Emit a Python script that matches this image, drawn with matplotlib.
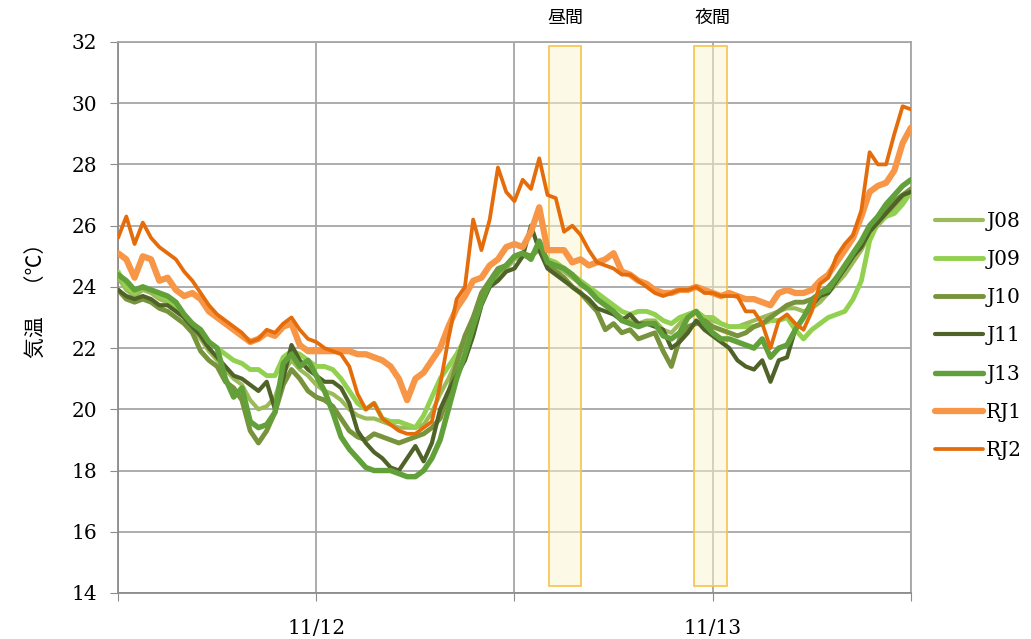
import numpy as np
import matplotlib
matplotlib.use("Agg")
import matplotlib.pyplot as plt
from matplotlib.patches import Rectangle

# 30分ごとの気温データ (11/11 12:00 から 48時間)
hours = np.arange(0, 48.5, 0.5)

j08 = [24.3, 23.9, 23.7, 23.9, 23.8, 23.6, 23.5, 23.3, 23.0, 22.6,
       22.3, 21.9, 21.6, 21.3, 21.0, 20.8, 20.3, 20.0, 20.1, 20.4,
       21.2, 21.6, 21.3, 21.1, 20.8, 20.6, 20.5, 20.3, 20.0, 19.8,
       19.7, 19.7, 19.6, 19.5, 19.4, 19.4, 19.4, 19.5, 19.9, 20.5,
       21.0, 21.6, 22.2, 22.8, 23.5, 24.0, 24.4, 24.6, 24.9, 25.0,
       25.0, 25.2, 24.8, 24.6, 24.5, 24.3, 24.1, 23.9, 23.6, 23.4,
       23.2, 23.0, 22.9, 22.8, 22.9, 22.9, 22.6, 22.5, 22.8, 23.1,
       23.2, 23.0, 22.9, 22.8, 22.7, 22.7, 22.8, 22.9, 23.0, 23.1,
       23.2, 23.3, 23.3, 23.2, 23.3, 23.5, 23.8, 24.1, 24.4, 24.8,
       25.2, 25.7, 26.0, 26.3, 26.6, 26.9, 27.0]

j09 = [24.5, 24.0, 23.8, 24.0, 23.9, 23.7, 23.6, 23.4, 23.1, 22.8,
       22.5, 22.2, 22.0, 21.8, 21.6, 21.5, 21.3, 21.3, 21.1, 21.1,
       21.7, 21.9, 21.8, 21.6, 21.4, 21.4, 21.3, 21.0, 20.6, 20.2,
       20.0, 20.2, 19.7, 19.6, 19.6, 19.5, 19.4, 19.8, 20.4, 21.0,
       21.4, 21.8, 22.3, 23.0, 23.6, 24.1, 24.5, 24.7, 25.0, 25.1,
       25.0, 25.3, 24.9, 24.8, 24.6, 24.4, 24.2, 24.0, 23.8, 23.6,
       23.4, 23.2, 23.1, 23.2, 23.2, 23.1, 22.9, 22.8, 23.0, 23.1,
       23.2, 23.0, 23.0, 22.8, 22.7, 22.7, 22.7, 22.7, 22.8, 22.9,
       22.9, 23.0, 22.6, 22.3, 22.6, 22.8, 23.0, 23.1, 23.2, 23.6,
       24.2, 25.5, 26.1, 26.3, 26.4, 26.7, 27.1]

j10 = [23.9, 23.6, 23.5, 23.6, 23.5, 23.3, 23.2, 23.0, 22.8, 22.5,
       21.9, 21.6, 21.4, 20.9, 20.7, 20.3, 19.3, 18.9, 19.3, 19.9,
       20.8, 21.3, 21.0, 20.6, 20.4, 20.3, 20.1, 19.7, 19.3, 19.1,
       19.0, 19.2, 19.1, 19.0, 18.9, 19.0, 19.1, 19.2, 19.4, 19.7,
       20.5, 21.5, 22.4, 23.0, 23.8, 24.2, 24.6, 24.7, 25.0, 25.1,
       25.0, 25.3, 24.7, 24.5, 24.3, 24.0, 23.8, 23.5, 23.2, 22.6,
       22.8, 22.5, 22.6, 22.3, 22.4, 22.5, 21.9, 21.4, 22.3, 22.7,
       22.8, 22.9, 22.7, 22.6, 22.5, 22.4, 22.5, 22.7, 22.8, 23.0,
       23.2, 23.4, 23.5, 23.5, 23.6, 23.8, 24.0, 24.3, 24.6, 25.0,
       25.4, 25.9, 26.2, 26.5, 26.8, 27.0, 27.2]

j11 = [23.9, 23.7, 23.6, 23.7, 23.6, 23.4, 23.4, 23.2, 23.0, 22.7,
       22.4, 22.0, 21.7, 21.4, 21.1, 21.0, 20.8, 20.6, 20.9, 20.0,
       21.0, 22.1, 21.6, 21.3, 21.1, 20.9, 20.9, 20.7, 20.2, 19.3,
       18.9, 18.6, 18.4, 18.1, 18.0, 18.4, 18.8, 18.3, 18.9, 20.0,
       20.6, 21.1, 21.6, 22.4, 23.4, 24.0, 24.2, 24.5, 24.6, 25.0,
       26.0, 25.2, 24.6, 24.4, 24.2, 24.0, 23.8, 23.6, 23.3, 23.2,
       23.1, 22.9, 23.1, 22.8, 22.8, 22.7, 22.6, 22.0, 22.2, 22.5,
       22.9, 22.6, 22.4, 22.2, 22.0, 21.6, 21.4, 21.3, 21.6, 20.9,
       21.6, 21.7, 22.6, 23.0, 23.4, 23.7, 23.8, 24.2, 24.6, 25.0,
       25.3, 25.8, 26.1, 26.4, 26.7, 27.0, 27.1]

j13 = [24.4, 24.2, 23.9, 24.0, 23.9, 23.8, 23.7, 23.5, 23.1, 22.8,
       22.6, 22.2, 22.0, 21.0, 20.4, 20.7, 19.6, 19.4, 19.5, 19.9,
       21.5, 21.8, 21.4, 21.6, 21.1, 20.6, 19.9, 19.1, 18.7, 18.4,
       18.1, 18.0, 18.0, 18.0, 17.9, 17.8, 17.8, 18.0, 18.4, 19.0,
       20.0, 21.0, 21.8, 22.7, 23.5, 24.1, 24.5, 24.7, 25.0, 25.1,
       24.9, 25.5, 24.8, 24.7, 24.6, 24.4, 24.1, 23.9, 23.6, 23.4,
       23.2, 22.9, 22.8, 22.7, 22.8, 22.8, 22.4, 22.3, 22.5, 23.0,
       23.2, 22.8, 22.5, 22.3, 22.3, 22.2, 22.1, 22.0, 22.3, 21.7,
       22.0, 22.1, 22.6, 23.0, 23.5, 23.8, 23.9, 24.3, 24.7, 25.1,
       25.5, 26.0, 26.3, 26.7, 27.0, 27.3, 27.5]

rj1 = [25.1, 24.9, 24.3, 25.0, 24.9, 24.2, 24.3, 23.9, 23.7, 23.8,
       23.6, 23.2, 23.0, 22.8, 22.6, 22.4, 22.2, 22.3, 22.5, 22.4,
       22.7, 22.8, 22.1, 21.9, 21.9, 21.9, 21.9, 21.9, 21.9, 21.8,
       21.8, 21.7, 21.6, 21.4, 21.0, 20.3, 21.0, 21.2, 21.6, 22.0,
       22.7, 23.3, 23.7, 24.2, 24.3, 24.7, 24.9, 25.3, 25.4, 25.3,
       25.8, 26.6, 25.2, 25.2, 25.2, 24.8, 24.9, 24.7, 24.8, 24.9,
       25.1, 24.5, 24.4, 24.2, 24.1, 23.9, 23.8, 23.8, 23.9, 23.9,
       24.0, 23.9, 23.8, 23.7, 23.8, 23.7, 23.6, 23.6, 23.5, 23.4,
       23.8, 23.9, 23.8, 23.8, 23.9, 24.2, 24.4, 24.8, 25.2, 25.6,
       26.3, 27.1, 27.3, 27.4, 27.8, 28.7, 29.2]

rj2 = [25.6, 26.3, 25.4, 26.1, 25.6, 25.3, 25.1, 24.9, 24.5, 24.2,
       23.8, 23.4, 23.1, 22.9, 22.7, 22.5, 22.2, 22.3, 22.6, 22.5,
       22.8, 23.0, 22.6, 22.3, 22.2, 22.0, 21.9, 21.8, 21.4, 20.5,
       20.0, 20.2, 19.7, 19.5, 19.3, 19.2, 19.2, 19.4, 19.6, 20.8,
       22.3, 23.6, 24.0, 26.2, 25.2, 26.2, 27.9, 27.1, 26.8, 27.5,
       27.2, 28.2, 27.0, 26.9, 25.8, 26.0, 25.7, 25.2, 24.8, 24.7,
       24.6, 24.4, 24.4, 24.2, 24.0, 23.8, 23.7, 23.8, 23.9, 23.9,
       24.0, 23.8, 23.8, 23.7, 23.7, 23.7, 23.2, 23.2, 22.8, 22.0,
       22.9, 23.1, 22.8, 22.6, 23.2, 24.1, 24.3, 25.0, 25.4, 25.7,
       26.5, 28.4, 28.0, 28.0, 29.0, 29.9, 29.8]

names = ["J08", "J09", "J10", "J11", "J13", "RJ1", "RJ2"]
series = [j08, j09, j10, j11, j13, rj1, rj2]
colors = ["#9BBB59", "#92D050", "#77933C", "#4F6228", "#62A03A", "#F79646", "#E46C0A"]
widths = [3.0, 3.5, 3.5, 3.0, 3.9, 4.5, 2.7]

# 昼間・夜間の区間 (時間)
day_span = (26.1, 28.05)
night_span = (34.85, 36.85)

serif = ["DejaVu Serif", "Liberation Serif"]
jp = ["Noto Sans CJK JP", "DejaVu Sans"]

fig = plt.figure(figsize=(10.31, 6.39), dpi=100)
ax = fig.add_axes([0.1145, 0.072, 0.769, 0.8623])

for name, vals, c, w in zip(names, series, colors, widths):
    ax.plot(hours, vals, color=c, lw=w, label=name, zorder=3,
            solid_joinstyle="round", solid_capstyle="round")

for x0, x1 in [day_span, night_span]:
    ax.add_patch(Rectangle((x0, 14.23), x1 - x0, 31.87 - 14.23,
                           facecolor=(0.98, 0.96, 0.82, 0.5),
                           edgecolor="#F7C34A", lw=1.2, zorder=2))

ax.set_xlim(0, 48)
ax.set_ylim(14, 32)
ax.set_yticks(np.arange(14, 33, 2))
ax.set_xticks([0, 12, 24, 36, 48])
ax.set_xticklabels(["", "11/12", "", "11/13", ""])
ax.grid(True, color="#A6A6A6", lw=1.3, zorder=0)
ax.set_axisbelow(True)
for s in ax.spines.values():
    s.set_color("#A6A6A6")
    s.set_linewidth(1.3)
ax.spines["left"].set_color("#8C8C8C")
ax.spines["bottom"].set_color("#8C8C8C")
ax.tick_params(axis="both", direction="out", length=6, color="#8C8C8C",
               labelsize=14.5)
ax.tick_params(axis="y", pad=9)
ax.tick_params(axis="x", pad=13)
for lab in ax.get_xticklabels() + ax.get_yticklabels():
    lab.set_family(serif)

ax.set_ylabel("気温　（℃）", family=jp, fontsize=15)
ax.yaxis.set_label_coords(-0.09, 0.54)

fig.text(565 / 1031, 1 - 18 / 639, "昼間", family=jp, fontsize=13,
         ha="center", va="center")
fig.text(713 / 1031, 1 - 18 / 639, "夜間", family=jp, fontsize=13,
         ha="center", va="center")

fig.legend(loc="center left", bbox_to_anchor=(935 / 1031, 1 - 336 / 639),
           frameon=False, borderpad=0, borderaxespad=0, handlelength=2.4,
           handletextpad=0.15, labelspacing=0.95,
           prop={"family": serif, "size": 14.5})

fig.savefig("out.png", dpi=100)
